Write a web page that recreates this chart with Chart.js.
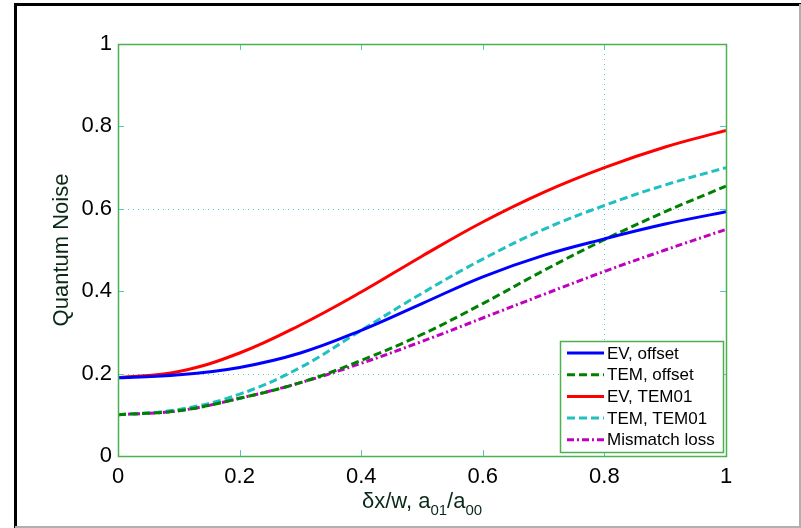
<!DOCTYPE html>
<html><head><meta charset="utf-8">
<script src="https://cdn.jsdelivr.net/npm/chart.js@4/dist/chart.umd.min.js"></script>
<style>html,body{margin:0;padding:0;background:#fff;}#wrap{width:801px;height:528px;position:relative;}</style>
</head><body><div id="wrap"><canvas id="c" width="801" height="528"></canvas></div>
<script>
const xValues   = [0, 0.1, 0.2, 0.3, 0.4, 0.5, 0.6, 0.7, 0.8, 0.9, 1.0];
const evOffset  = [0.19, 0.197, 0.215, 0.250, 0.305, 0.370, 0.435, 0.487, 0.527, 0.563, 0.593];
const temOffset = [0.10, 0.110, 0.140, 0.178, 0.232, 0.295, 0.370, 0.450, 0.525, 0.593, 0.655];
const evTem01   = [0.19, 0.205, 0.250, 0.318, 0.398, 0.485, 0.568, 0.640, 0.700, 0.750, 0.790];
const temTem01  = [0.10, 0.113, 0.150, 0.215, 0.305, 0.395, 0.478, 0.550, 0.608, 0.658, 0.700];
const mismatch  = [0.10, 0.110, 0.140, 0.178, 0.225, 0.278, 0.335, 0.392, 0.448, 0.500, 0.550];
const seriesLabels = ['EV, offset', 'TEM, offset', 'EV, TEM01', 'TEM, TEM01', 'Mismatch loss'];
const xTicks = [0, 0.2, 0.4, 0.6, 0.8, 1];
const yTicks = [0, 0.2, 0.4, 0.6, 0.8, 1];
const yGridAt = [0.2, 0.6];
const xGridAt = [0.8];

const pts = arr => arr.map((v, i) => ({x: xValues[i], y: v}));
const FONT = '"Liberation Sans", Arial, sans-serif';
const styles = [
  {color: '#0000ff', dash: []},
  {color: '#008000', dash: [8, 4]},
  {color: '#ff0000', dash: []},
  {color: '#20c0c0', dash: [8, 4]},
  {color: '#c000c0', dash: [7, 3, 2, 3]}
];
const allSeries = [evOffset, temOffset, evTem01, temTem01, mismatch];

const decor = {
  id: 'decor',
  beforeDraw(chart) {
    const ctx = chart.ctx;
    ctx.save();
    ctx.fillStyle = '#fff';
    ctx.fillRect(0, 0, 801, 528);
    ctx.strokeStyle = '#000';
    ctx.lineWidth = 3;
    ctx.beginPath();
    ctx.moveTo(15.5, 528); ctx.lineTo(15.5, 4.5); ctx.lineTo(801, 4.5);
    ctx.stroke();
    ctx.strokeStyle = '#b0b0b0';
    ctx.lineWidth = 2;
    ctx.beginPath();
    ctx.moveTo(15, 527); ctx.lineTo(801, 527);
    ctx.moveTo(800, 4); ctx.lineTo(800, 528);
    ctx.stroke();
    ctx.restore();
  },
  beforeDatasetsDraw(chart) {
    const ctx = chart.ctx, a = chart.chartArea;
    const xs = chart.scales.x, ys = chart.scales.y;
    ctx.save();
    ctx.strokeStyle = '#50c8c8';
    ctx.lineWidth = 1;
    ctx.setLineDash([1, 4]);
    ctx.beginPath();
    yGridAt.forEach(v => { const y = Math.round(ys.getPixelForValue(v)) + 0.5; ctx.moveTo(a.left, y); ctx.lineTo(a.right, y); });
    xGridAt.forEach(v => { const x = Math.round(xs.getPixelForValue(v)) + 0.5; ctx.moveTo(x, a.top); ctx.lineTo(x, a.bottom); });
    ctx.stroke();
    ctx.setLineDash([]);
    ctx.beginPath();
    xTicks.forEach(v => { const x = Math.round(xs.getPixelForValue(v)) + 0.5; ctx.moveTo(x, a.bottom); ctx.lineTo(x, a.bottom - 6); ctx.moveTo(x, a.top); ctx.lineTo(x, a.top + 6); });
    yTicks.forEach(v => { const y = Math.round(ys.getPixelForValue(v)) + 0.5; ctx.moveTo(a.left, y); ctx.lineTo(a.left + 6, y); ctx.moveTo(a.right, y); ctx.lineTo(a.right - 6, y); });
    ctx.stroke();
    ctx.restore();
  },
  afterDraw(chart) {
    const ctx = chart.ctx, a = chart.chartArea;
    ctx.save();
    ctx.strokeStyle = '#4cb050';
    ctx.lineWidth = 1.5;
    ctx.strokeRect(Math.round(a.left) + 0.5, Math.round(a.top) + 0.5, Math.round(a.right - a.left), Math.round(a.bottom - a.top));
    // legend
    const lx = 560, ly = 341, lw = 163, lh = 111;
    ctx.fillStyle = '#fff';
    ctx.fillRect(lx, ly, lw, lh);
    ctx.strokeStyle = '#4cb050';
    ctx.lineWidth = 1.5;
    ctx.strokeRect(lx + 0.5, ly + 0.5, lw, lh);
    ctx.font = '17px ' + FONT;
    ctx.textBaseline = 'middle';
    ctx.textAlign = 'left';
    seriesLabels.forEach((lab, i) => {
      const y = ly + 12 + i * 21.7;
      ctx.strokeStyle = styles[i].color;
      ctx.lineWidth = 3;
      ctx.setLineDash(styles[i].dash);
      ctx.beginPath(); ctx.moveTo(567, y); ctx.lineTo(604, y); ctx.stroke();
      ctx.setLineDash([]);
      ctx.fillStyle = '#000';
      ctx.fillText(lab, 607, y + 1);
    });
    // x title with subscripts
    const big = '22px ' + FONT, small = '15px ' + FONT;
    const parts = [['δx/w, a', big, 0], ['01', small, 7], ['/a', big, 0], ['00', small, 7]];
    let total = 0;
    parts.forEach(p => { ctx.font = p[1]; total += ctx.measureText(p[0]).width; });
    let x = (a.left + a.right) / 2 - total / 2;
    ctx.textBaseline = 'alphabetic';
    ctx.fillStyle = '#0a2a18';
    parts.forEach(p => { ctx.font = p[1]; ctx.fillText(p[0], x, 508 + p[2]); x += ctx.measureText(p[0]).width; });
    // y title
    ctx.translate(62, (a.top + a.bottom) / 2);
    ctx.rotate(-Math.PI / 2);
    ctx.font = '22px ' + FONT;
    ctx.textAlign = 'center';
    ctx.textBaseline = 'middle';
    ctx.fillText('Quantum Noise', 0, 0);
    ctx.restore();
  }
};

new Chart(document.getElementById('c'), {
  type: 'line',
  data: {
    datasets: allSeries.map((arr, i) => ({
      label: seriesLabels[i],
      data: pts(arr),
      borderColor: styles[i].color,
      borderDash: styles[i].dash,
      borderWidth: 3,
      pointRadius: 0,
      tension: 0.4,
      fill: false
    }))
  },
  options: {
    responsive: false,
    animation: false,
    layout: {padding: {left: 0, top: 44, right: 75, bottom: 0}},
    plugins: {legend: {display: false}, tooltip: {enabled: false}},
    scales: {
      x: {
        type: 'linear', min: 0, max: 1,
        afterBuildTicks: s => { s.ticks = xTicks.map(v => ({value: v})); },
        afterFit: s => { s.height = 72; },
        grid: {display: false, drawTicks: false},
        border: {display: false},
        ticks: {color: '#000', font: {family: FONT, size: 22}, padding: 8, maxRotation: 0, autoSkip: false,
                callback: v => String(v)}
      },
      y: {
        type: 'linear', min: 0, max: 1,
        afterBuildTicks: s => { s.ticks = yTicks.map(v => ({value: v})); },
        afterFit: s => { s.width = 118; },
        grid: {display: false, drawTicks: false},
        border: {display: false},
        ticks: {color: '#000', font: {family: FONT, size: 22}, padding: 6, autoSkip: false,
                callback: v => String(v)}
      }
    }
  },
  plugins: [decor]
});
</script></body></html>
